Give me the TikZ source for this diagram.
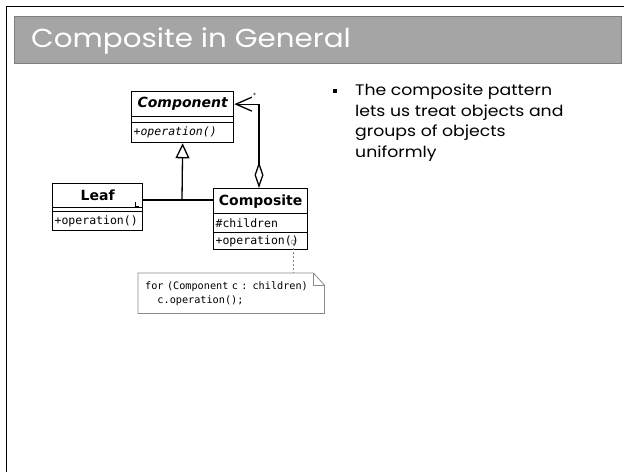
\documentclass[tikz,border=0pt]{standalone}
\usepackage{fontspec}
\usetikzlibrary{arrows.meta}
\newfontfamily\umlsans{DejaVu Sans}
\newfontfamily\umlmono{DejaVu Sans Mono}
\newfontfamily\gothic[FakeStretch=1.13]{Poppins}
\definecolor{barfill}{HTML}{A5A5A5}
\definecolor{barline}{HTML}{7F7F7F}
\definecolor{notegray}{HTML}{8A8A8A}
\tikzset{
  umlbox/.style={draw, line width=1.3pt, rectangle, inner sep=0pt, anchor=north west},
  umlhead/.style={umlbox, font=\umlsans\bfseries\fontsize{14}{16}\selectfont},
  umlrow/.style={umlbox, font=\umlmono\fontsize{11.5}{13}\selectfont, align=left, inner xsep=2pt},
  umlline/.style={line width=1.3pt},
  bullettext/.style={anchor=north west, inner sep=0pt, align=left,
    font=\gothic\fontsize{15.3}{20.5}\selectfont},
}
\begin{document}
\begin{tikzpicture}[x=1pt,y=-1pt]
\useasboundingbox (0,0) rectangle (624,472);

% slide frame and title bar
\draw[line width=1.3pt] (6.5,472) -- (6.5,6.5) -- (624,6.5);
\node[fill=barfill, draw=barline, line width=1.2pt, minimum width=607pt, minimum height=47pt,
  inner sep=0pt, anchor=north west] (bar) at (14,16) {};
\node[anchor=base west, inner sep=0pt, text=white, font=\gothic\fontsize{26}{30}\selectfont]
  (title) at (31,47.5) {Composite in General};

% bullet point
\node[fill=black, minimum size=4pt, inner sep=0pt] (bul) at (335,91) {};
\node[bullettext] (btext) at (355,84) {The composite pattern\\lets us treat objects and\\groups of objects\\uniformly};

% Component class
\node[umlhead, minimum width=102pt, minimum height=25pt] (cmpH) at (131,91) {\itshape Component};
\node[umlbox, minimum width=102pt, minimum height=6pt] (cmpE) at (131,116) {};
\node[umlrow, text width=98pt, minimum height=20pt] (cmpO) at (131,122) {\itshape +operation()};

% Leaf class
\node[umlhead, minimum width=90pt, minimum height=24pt] (leafH) at (52,183) {Leaf};
\node[umlbox, minimum width=90pt, minimum height=4pt] (leafE) at (52,207) {};
\node[umlrow, text width=86pt, minimum height=19pt] (leafO) at (52,211) {+operation()};
\draw[line width=0.9pt] (135.5,202) -- (135.5,206) -- (139,206);

% Composite class
\node[umlhead, minimum width=94pt, minimum height=25pt] (cpsH) at (213,188) {Composite};
\node[umlrow, text width=90pt, minimum height=19pt] (cpsC) at (213,213) {\#children};
\node[umlrow, text width=90pt, minimum height=17pt] (cpsO) at (213,232) {+operation()};

% generalisation
\coordinate (join) at (182,200);
\draw[umlline, -{Triangle[open, length=15pt, width=14pt, line width=1.3pt]}] (join) -- (cmpO.south);
\draw[umlline] (leafH.east |- join) -- (cpsH.west |- join);

% aggregation
\draw[umlline, {Diamond[open, length=26pt, width=9pt, line width=1.3pt]}-{Straight Barb[length=16pt, width=14pt, line width=1.3pt]}]
  (cpsH.north -| 259,0) |- (cmpH.east);
\node[font=\umlsans\fontsize{6}{6}\selectfont, inner sep=0pt] (mult) at (254.5,95) {*};

% note attached to the operation
\node[draw=notegray, circle, line width=0.6pt, minimum size=4pt, inner sep=0pt] (anch) at (293,242) {};
\node[anchor=north west, minimum width=186pt, minimum height=40pt, inner xsep=7pt, inner ysep=0pt,
  align=left, text width=172pt, font=\umlmono\fontsize{10.2}{14}\selectfont] (note) at (138,273)
  {for (Component c : children)\\\hspace*{2\fontcharwd\font`x}c.operation();};
\draw[notegray, line width=0.8pt] (note.north west) -- ([xshift=-11pt]note.north east)
  -- ([yshift=-12pt]note.north east) -- (note.south east) -- (note.south west) -- cycle;
\draw[notegray, line width=0.6pt] ([xshift=-11pt]note.north east) -- ([xshift=-11pt,yshift=-12pt]note.north east)
  -- ([yshift=-12pt]note.north east);
\draw[notegray, line width=1pt, dash pattern=on 2pt off 2pt] (anch) -- (anch |- note.north);
\end{tikzpicture}
\end{document}
